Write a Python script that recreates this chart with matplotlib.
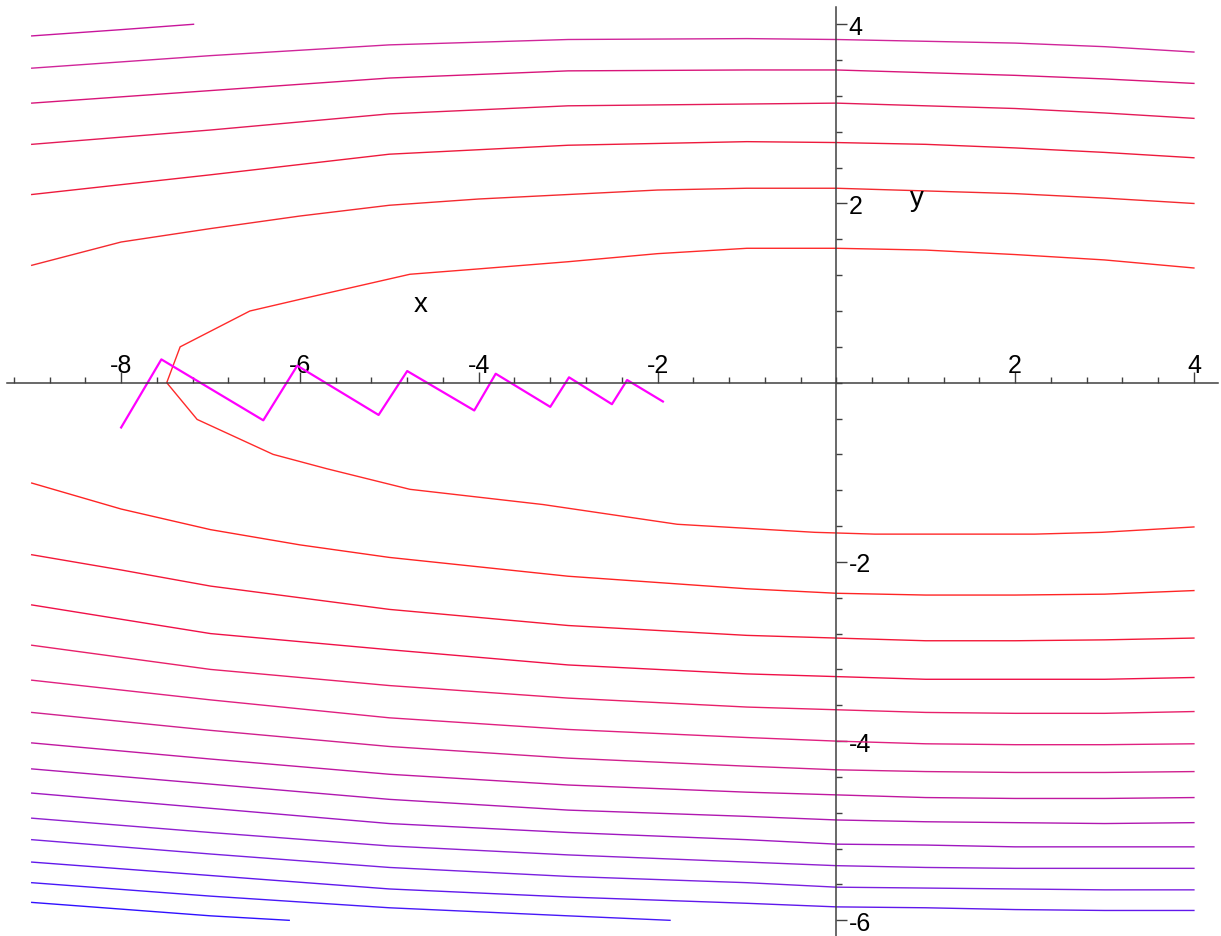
import numpy as np
import matplotlib.pyplot as plt
from matplotlib.ticker import FixedLocator, FixedFormatter

# common x samples for the long curves
x_grid = [-9, -7, -5, -3, -1, 0, 1, 2, 3, 4]

# curves above the x axis (top to bottom)
top_x = [-9, -8, -7.19]
top_y = [3.87, 3.94, 4.0]

upper_y = [
    [3.51, 3.65, 3.77, 3.83, 3.84, 3.83, 3.81, 3.79, 3.75, 3.69],
    [3.12, 3.26, 3.40, 3.48, 3.49, 3.49, 3.46, 3.43, 3.39, 3.34],
    [2.66, 2.82, 3.00, 3.09, 3.11, 3.12, 3.09, 3.06, 3.01, 2.95],
    [2.10, 2.32, 2.55, 2.65, 2.69, 2.68, 2.66, 2.62, 2.57, 2.51],
]
upper_colors = ['#d0259a', '#d8157a', '#e41a58', '#ee1a3c']

u6_x = [-9, -8, -7, -6, -5, -4, -3, -2, -1, 0, 1, 2, 3, 4]
u6_y = [1.31, 1.57, 1.72, 1.86, 1.98, 2.05, 2.10, 2.15, 2.17, 2.17, 2.14, 2.11, 2.06, 2.00]

# the curve that turns round near x = -7.5
inner_x = [4.0, 3.0, 2.0, 1.0, 0.0, -1.0, -2.0, -3.0, -4.0, -4.77, -6.0, -6.56, -7.34, -7.49,
           -7.15, -6.30, -5.70, -4.77, -3.28, -1.78, -0.24, 0.43, 2.22, 2.97, 4.0]
inner_y = [1.28, 1.37, 1.43, 1.48, 1.50, 1.50, 1.44, 1.35, 1.27, 1.21, 0.93, 0.80, 0.40, 0.0,
           -0.41, -0.80, -0.96, -1.19, -1.36, -1.58, -1.67, -1.69, -1.69, -1.67, -1.61]

# curves below the x axis (top to bottom)
l1_x = [-9, -8, -7, -6, -5, -3, -1, 0, 1, 2, 3, 4]
l1_y = [-1.12, -1.41, -1.64, -1.81, -1.95, -2.16, -2.30, -2.35, -2.37, -2.37, -2.36, -2.32]
l2_x = [-9, -8, -7, -5, -3, -1, 0, 1, 2, 3, 4]
l2_y = [-1.92, -2.09, -2.27, -2.53, -2.71, -2.82, -2.85, -2.88, -2.88, -2.87, -2.85]

lower_y = [
    [-2.48, -2.80, -2.98, -3.15, -3.25, -3.28, -3.31, -3.31, -3.31, -3.29],
    [-2.93, -3.20, -3.38, -3.52, -3.62, -3.65, -3.68, -3.69, -3.69, -3.67],
    [-3.32, -3.54, -3.74, -3.87, -3.96, -4.00, -4.03, -4.04, -4.04, -4.03],
    [-3.68, -3.88, -4.06, -4.19, -4.28, -4.32, -4.34, -4.35, -4.35, -4.34],
    [-4.02, -4.20, -4.37, -4.49, -4.57, -4.60, -4.63, -4.64, -4.64, -4.63],
    [-4.31, -4.48, -4.65, -4.77, -4.84, -4.88, -4.90, -4.91, -4.92, -4.91],
    [-4.58, -4.75, -4.92, -5.02, -5.10, -5.15, -5.16, -5.18, -5.18, -5.18],
    [-4.86, -5.02, -5.17, -5.27, -5.35, -5.39, -5.41, -5.42, -5.42, -5.42],
    [-5.10, -5.26, -5.41, -5.51, -5.58, -5.63, -5.64, -5.65, -5.66, -5.66],
    [-5.35, -5.50, -5.65, -5.74, -5.81, -5.85, -5.86, -5.88, -5.89, -5.89],
]
lower_colors = ['#f01048', '#e8206a', '#e02080', '#d0208e',
                '#c018a0', '#b018b0', '#a018c0', '#9020d0', '#7a20e0', '#6018ec']

l13_x = [-9, -7, -5, -3, -1.86]
l13_y = [-5.58, -5.73, -5.86, -5.95, -6.0]
l14_x = [-9, -7, -6.12]
l14_y = [-5.80, -5.95, -6.0]

# the zigzag path
zig_x = [-8.0, -7.55, -6.41, -6.03, -5.12, -4.80, -4.05, -3.81, -3.20, -2.99, -2.51, -2.34, -1.94]
zig_y = [-0.50, 0.26, -0.42, 0.19, -0.36, 0.13, -0.31, 0.10, -0.27, 0.06, -0.24, 0.03, -0.21]

x_ticks = [-8, -6, -4, -2, 2, 4]
y_ticks = [-6, -4, -2, 2, 4]

plt.rcParams['font.family'] = ['Liberation Sans', 'DejaVu Sans']

fig = plt.figure(figsize=(12.21, 9.37), dpi=100)
ax = fig.add_axes([0, 0, 1, 1])
ax.set_xlim(-9.355, 4.303)
ax.set_ylim(-6.175, 4.282)

lw = 1.0
ax.plot(top_x, top_y, color='#c8159b', lw=lw)
for ys, c in zip(upper_y, upper_colors):
    ax.plot(x_grid, ys, color=c, lw=lw)
ax.plot(u6_x, u6_y, color='#f42a30', lw=lw)
ax.plot(inner_x, inner_y, color='#ff2a2a', lw=lw)
ax.plot(l1_x, l1_y, color='#ff2424', lw=lw)
ax.plot(l2_x, l2_y, color='#f41838', lw=lw)
for ys, c in zip(lower_y, lower_colors):
    ax.plot(x_grid, ys, color=c, lw=lw)
ax.plot(l13_x, l13_y, color='#4818f8', lw=lw)
ax.plot(l14_x, l14_y, color='#3010ff', lw=lw)
ax.plot(zig_x, zig_y, color='#ff00ff', lw=1.6)

# axes through the origin
for s in ['left', 'bottom']:
    ax.spines[s].set_visible(False)
ax.spines['top'].set_position(('data', 0))
ax.spines['right'].set_position(('data', 0))
ax.spines['top'].set_bounds(-9.28, 4.27)
ax.spines['right'].set_bounds(-6.18, 4.19)
for s in ['top', 'right']:
    ax.spines[s].set_color('#404040')
    ax.spines[s].set_linewidth(1.1)
ax.xaxis.set_ticks_position('top')
ax.yaxis.set_ticks_position('right')

ax.xaxis.set_major_locator(FixedLocator(x_ticks))
ax.xaxis.set_major_formatter(FixedFormatter([str(t) for t in x_ticks]))
ax.yaxis.set_major_locator(FixedLocator(y_ticks))
ax.yaxis.set_major_formatter(FixedFormatter([str(t) for t in y_ticks]))
ax.xaxis.set_minor_locator(FixedLocator(np.round(np.arange(-9.2, 4.01, 0.4), 2)))
ax.yaxis.set_minor_locator(FixedLocator(np.round(np.arange(-6.0, 4.01, 0.4), 2)))

ax.tick_params(which='major', direction='out', length=8, width=1, color='#404040',
               labelsize=18)
ax.tick_params(which='minor', direction='out', length=4, width=1, color='#404040')
ax.tick_params(axis='x', which='major', pad=-4)
ax.tick_params(axis='y', which='major', pad=1)

ax.text(-4.645, 0.878, 'x', fontsize=20, ha='center', va='center')
ax.text(0.903, 2.061, 'y', fontsize=20, ha='center', va='center')

fig.savefig('out.png', dpi=100)
